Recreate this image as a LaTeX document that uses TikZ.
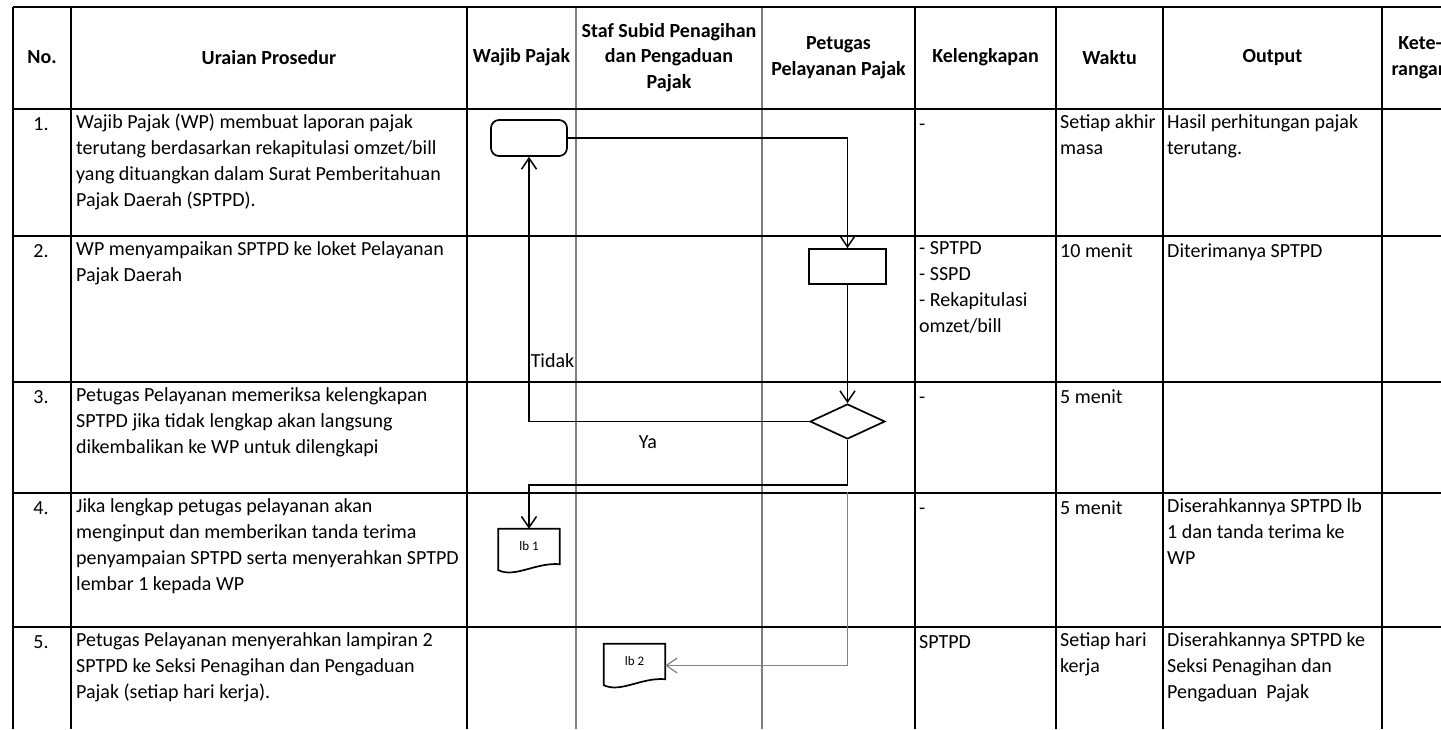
\documentclass[tikz,border=0pt]{standalone}
\usepackage{fontspec}
\setmainfont{Carlito}
\usetikzlibrary{arrows.meta, calc, positioning, shapes.geometric}
\definecolor{garisabu}{RGB}{128,128,128}
\newcommand{\isifont}{\fontsize{20}{26}\selectfont}
\newcommand{\judulfont}{\bfseries\fontsize{20}{25.5}\selectfont}
\newcommand{\lembaran}[1]{%
  \draw[line width=1.7pt] (#1.north west) -- (#1.north east) -- (#1.south east)
    .. controls ($(#1.south east)+(-24,-2)$) and ($(#1.south west)+(17,14)$) .. ($(#1.south west)+(0,6)$) -- cycle;}
\tikzset{
  garis/.style={line width=2pt, black},
  garistipis/.style={line width=1.5pt, garisabu},
  judul/.style={font=\judulfont, align=center, inner sep=0pt},
  isi/.style={anchor=north west, inner sep=0pt, align=left, font=\isifont, execute at begin node={\rule{0pt}{16pt}}},
  nomor/.style={anchor=north, inner sep=0pt, font=\isifont, execute at begin node={\rule{0pt}{16pt}}},
  terminal/.style={draw, line width=1.7pt, rounded corners=8pt, minimum width=76pt, minimum height=36pt, inner sep=0pt},
  proses/.style={draw, line width=1.7pt, minimum width=77pt, minimum height=35pt, inner sep=0pt},
  keputusan/.style={draw, diamond, line width=1.7pt, minimum width=75pt, minimum height=35pt, inner sep=0pt},
  dokumen/.style={minimum width=61pt, minimum height=35pt, inner sep=0pt, font=\fontsize{13}{15}\selectfont},
  panah/.style={line width=1.5pt, ->},
}

\begin{document}
\begin{tikzpicture}[x=1pt, y=-1pt, >={Straight Barb[length=11pt, width=15pt]}]
    \useasboundingbox (0,0) rectangle (1441,729);
    \clip (0,0) rectangle (1441,729);

    % Garis tabel
    \draw[garistipis] (576,7) -- (576,729) (762,7) -- (762,729);
    \draw[garis] (13,7) -- (1441,7) (13,108.5) -- (1441,108.5) (13,235.5) -- (1441,235.5)
        (13,382) -- (1441,382) (13,493) -- (1441,493) (13,627) -- (1441,627);
    \draw[garis] (13,7) -- (13,729) (71,7) -- (71,729) (467,7) -- (467,729) (915,7) -- (915,729)
        (1056,7) -- (1056,729) (1163,7) -- (1163,729) (1382,7) -- (1382,729);

    % Kepala tabel
    \node[judul] (hno) at (42,57.5) {No.};
    \node[judul] (hurai) at (269,57.5) {Uraian Prosedur};
    \node[judul] (hwp) at (521.5,57.5) {Wajib Pajak};
    \node[judul] (hstaf) at (669,57.5) {Staf Subid Penagihan\\dan Pengaduan\\Pajak};
    \node[judul] (hpetugas) at (838.5,57.5) {Petugas\\Pelayanan Pajak};
    \node[judul] (hlengkap) at (985.5,57.5) {Kelengkapan};
    \node[judul] (hwaktu) at (1109.5,57.5) {Waktu};
    \node[judul] (houtput) at (1272.5,57.5) {Output};
    \node[judul] (hket) at (1420,57.5) {Kete-\\rangan};

    % Baris 1
    \node[nomor] (no1) at (41,114) {1.};
    \node[isi] (urai1) at (76,114) {Wajib Pajak (WP) membuat laporan pajak\\terutang berdasarkan rekapitulasi omzet/bill\\yang dituangkan dalam Surat Pemberitahuan\\Pajak Daerah (SPTPD).};
    \node[isi] (lengkap1) at (919,114) {-};
    \node[isi] (waktu1) at (1060,114) {Setiap akhir\\masa};
    \node[isi] (output1) at (1167,114) {Hasil perhitungan pajak\\terutang.};

    % Baris 2
    \node[nomor] (no2) at (41,241) {2.};
    \node[isi] (urai2) at (76,241) {WP menyampaikan SPTPD ke loket Pelayanan\\Pajak Daerah};
    \node[isi] (lengkap2) at (919,241) {- SPTPD\\- SSPD\\- Rekapitulasi\\omzet/bill};
    \node[isi] (waktu2) at (1060,241) {10 menit};
    \node[isi] (output2) at (1167,241) {Diterimanya SPTPD};

    % Baris 3
    \node[nomor] (no3) at (41,387.5) {3.};
    \node[isi] (urai3) at (76,387.5) {Petugas Pelayanan memeriksa kelengkapan\\SPTPD jika tidak lengkap akan langsung\\dikembalikan ke WP untuk dilengkapi};
    \node[isi] (lengkap3) at (919,387.5) {-};
    \node[isi] (waktu3) at (1060,387.5) {5 menit};

    % Baris 4
    \node[nomor] (no4) at (41,498.5) {4.};
    \node[isi] (urai4) at (76,498.5) {Jika lengkap petugas pelayanan akan\\menginput dan memberikan tanda terima\\penyampaian SPTPD serta menyerahkan SPTPD\\lembar 1 kepada WP};
    \node[isi] (lengkap4) at (919,498.5) {-};
    \node[isi] (waktu4) at (1060,498.5) {5 menit};
    \node[isi] (output4) at (1167,498.5) {Diserahkannya SPTPD lb\\1 dan tanda terima ke\\WP};

    % Baris 5
    \node[nomor] (no5) at (41,632.5) {5.};
    \node[isi] (urai5) at (76,632.5) {Petugas Pelayanan menyerahkan lampiran 2\\SPTPD ke Seksi Penagihan dan Pengaduan\\Pajak (setiap hari kerja).};
    \node[isi] (lengkap5) at (919,632.5) {SPTPD};
    \node[isi] (waktu5) at (1060,632.5) {Setiap hari\\kerja};
    \node[isi] (output5) at (1167,632.5) {Diserahkannya SPTPD ke\\Seksi Penagihan dan\\Pengaduan\ \ Pajak};

    % Bagan alir
    \node[terminal] (mulai) at (529,138) {};
    \node[proses] (terima) at (847.5,266.5) {};
    \node[keputusan] (periksa) at (847.5,421.5) {};
    \node[dokumen] (lb1) at (529,546.5) {lb 1};
    \node[dokumen] (lb2) at (634.5,661.5) {lb 2};
    \lembaran{lb1}
    \lembaran{lb2}
    \coordinate (serah) at (847.5,492);

    \draw[panah] (mulai.east) -| (terima.north);
    \draw[panah] (terima.south) -- (periksa.north);
    \draw[panah] (periksa.west) -| node[pos=0.615, anchor=west, inner sep=1pt, font=\isifont] (tidak) {Tidak} (mulai.south);
    \draw[panah] (periksa.south) -- ++(0,45) -| (lb1.north);
    \node[font=\isifont] (ya) at (648,442) {Ya};
    \draw[panah, garisabu, line width=1.2pt] (serah) |- ([yshift=-4pt]lb2.east);
\end{tikzpicture}
\end{document}
